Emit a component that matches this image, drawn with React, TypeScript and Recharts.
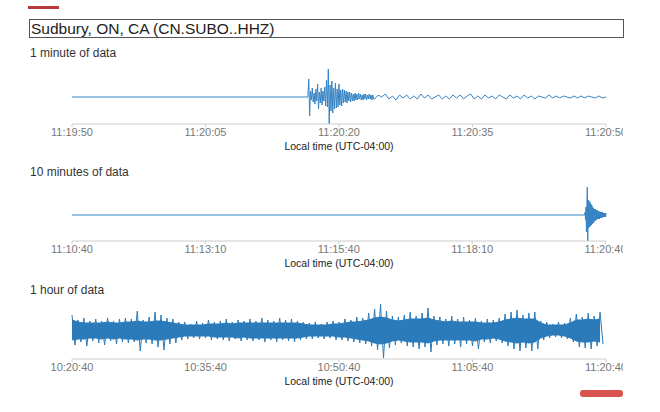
import { LineChart, Line, ComposedChart, Area, XAxis, YAxis } from 'recharts';

// Seismograph panels for station CN.SUBO..HHZ

const STATION = 'Sudbury, ON, CA (CN.SUBO..HHZ)';
const AXIS_TITLE = 'Local time (UTC-04:00)';
const WAVE = '#2b7bba';
const THIN_WAVE = '#3583c4';

// 1 minute window (seconds from 11:19:50)
const minuteTicks = [0, 15, 30, 45, 60];
const minuteLabels = ['11:19:50', '11:20:05', '11:20:20', '11:20:35', '11:20:50'];
const minuteBurstStart = 26.5;
const minuteBurstStep = 0.1;
const minuteBurst = [
  0, 18, -19, 6, -3, 9, -5, 4, -7, 8, -4, 13, -12, 5, -6, 9, -8, 6, -4, 10,
  -9, 17, -10, 28, -27, 12, -14, 16, -16, 9, -12, 14, -11, 8, -10, 13, -8, 7, -9, 8,
  -6, 7, -5, 6, -6, 5, -4, 5, -5, 4, -4, 3, -4, 4, -3, 3, -3, 4, -2, 3,
  -3, 2, -3, 3, -2, 3, -3, 2, -2, 3, -2, 2, -3, 2, -2,
];
const minuteTailStart = 34;
const minuteTailStep = 0.4;
const minuteTail = [
  -2, 2, 0, 3, -2, 1, -3, 2, -1, 2,
  -2, 1, -2, 3, -1, 2, -2, 0, 2, -2,
  1, -2, 2, -1, 2, -2, 1, 3, -2, 1,
  -2, 2, -1, 1, -2, 2, 0, -2, 2, -1,
  1, -2, 2, -1, 1, -2, 1, 0, -1, 2,
  -1, 1, -1, 1, 0, -1, 1, -1, 1, -1,
  1, 0, -1, 1, -1, 0,
];

// 10 minute window (seconds from 11:10:40)
const tenTicks = [0, 150, 300, 450, 600];
const tenLabels = ['11:10:40', '11:13:10', '11:15:40', '11:18:10', '11:20:40'];
const tenBurstStart = 576.5;
const tenBurstStep = 0.5;
const tenBurst = [
  0, 3, -5, 8, -17, 12, 28, -26, 15, -13, 14, -12, 13, -11, 11, -10, 10, -9, 8, -8,
  7, -7, 6, -6, 6, -5, 5, -5, 5, -4, 4, -4, 4, -4, 3, -3, 3, -3, 3, -3,
  3, -2, 2, -2, 2, -2, 2, -2, 2,
];

// 1 hour window (seconds from 10:20:40), one bin every 40 s
const hourTicks = [0, 900, 1800, 2700, 3600];
const hourLabels = ['10:20:40', '10:35:40', '10:50:40', '11:05:40', '11:20:40'];
const hourStep = 40;
// solid core of the noise band
const hourCoreUpper = [
  10, 8, 7, 7, 7, 7, 8, 7, 7, 8, 8, 9, 8, 8, 9, 9, 8, 7, 6, 5,
  5, 5, 5, 6, 6, 6, 7, 6, 7, 7, 7, 7, 7, 7, 7, 7, 7, 7, 7, 6,
  5, 5, 5, 5, 6, 6, 7, 8, 8, 9, 10, 12, 13, 12, 10, 9, 10, 11, 11, 11,
  12, 10, 9, 8, 9, 8, 8, 8, 8, 7, 7, 7, 8, 10, 11, 12, 11, 11, 11, 7,
  5, 5, 5, 5, 7, 10, 10, 11, 10, 11,
];
const hourCoreLower = [
  -10, -9, -9, -8, -8, -9, -8, -9, -8, -9, -9, -10, -9, -9, -10, -10, -9, -8, -7, -6,
  -6, -6, -6, -6, -7, -7, -7, -7, -8, -7, -8, -8, -8, -8, -8, -8, -8, -8, -8, -7,
  -6, -6, -6, -6, -6, -7, -7, -8, -9, -10, -11, -13, -14, -13, -11, -10, -11, -12, -12, -12,
  -13, -11, -10, -10, -10, -10, -10, -10, -11, -9, -9, -8, -9, -11, -12, -13, -12, -13, -12, -8,
  -6, -5, -5, -6, -8, -11, -12, -12, -11, -12,
];
// spike peaks poking out of the band
const hourPeakUpper = [
  15, 10, 12, 9, 11, 9, 12, 9, 11, 12, 11, 19, 10, 13, 18, 15, 12, 11, 8, 8,
  6, 9, 7, 10, 8, 9, 11, 8, 10, 9, 11, 9, 12, 10, 9, 12, 10, 11, 9, 8,
  7, 8, 6, 8, 9, 8, 11, 10, 13, 12, 17, 21, 26, 19, 14, 13, 15, 18, 14, 17,
  22, 14, 13, 11, 14, 11, 13, 10, 12, 9, 11, 10, 12, 16, 18, 20, 15, 17, 18, 9,
  8, 6, 8, 7, 12, 16, 13, 17, 14, 18,
];
const hourPeakLower = [
  -15, -12, -16, -11, -13, -15, -11, -14, -12, -13, -12, -21, -13, -14, -17, -20, -14, -13, -10, -9,
  -8, -9, -8, -10, -9, -10, -11, -9, -11, -10, -11, -10, -12, -10, -12, -10, -11, -12, -10, -9,
  -9, -8, -9, -8, -10, -10, -11, -12, -13, -14, -16, -20, -28, -18, -15, -13, -16, -17, -19, -17,
  -22, -15, -14, -16, -14, -17, -14, -16, -19, -12, -13, -11, -13, -16, -19, -21, -18, -21, -19, -10,
  -8, -7, -8, -9, -12, -17, -18, -19, -16, -14,
];

const minuteData = [
  { t: 0, v: 0 },
  ...minuteBurst.map((v, i) => ({ t: minuteBurstStart + i * minuteBurstStep, v })),
  ...minuteTail.map((v, i) => ({ t: minuteTailStart + i * minuteTailStep, v })),
];

const tenData = [
  { t: 0, v: 0 },
  ...tenBurst.map((v, i) => ({ t: tenBurstStart + i * tenBurstStep, v })),
];

const hourCore = hourCoreUpper.map((u, i) => ({ t: i * hourStep, range: [hourCoreLower[i], u] }));
const hourSpikes = hourPeakUpper.flatMap((u, i) => [
  { t: i * hourStep, v: u },
  { t: i * hourStep + hourStep / 2, v: hourPeakLower[i] },
]);

const CHART_W = 623;
const MARGIN = { top: 2, right: 17, bottom: 4, left: 72 };

function axisProps(ticks: number[], labels: string[]) {
  return {
    type: 'number' as const,
    dataKey: 't',
    domain: [ticks[0], ticks[ticks.length - 1]],
    ticks,
    interval: 0 as const,
    tickFormatter: (v: number) => labels[ticks.indexOf(v)] ?? '',
    height: 26,
    tickSize: 3,
    tickMargin: 1,
    axisLine: { stroke: '#cccccc' },
    tickLine: { stroke: '#cccccc' },
    tick: { fill: '#777777', fontSize: 11 },
    label: { value: AXIS_TITLE, position: 'insideBottom' as const, offset: 0, fill: '#222222', fontSize: 10.5 },
  };
}

function Heading({ top, text }: { top: number; text: string }) {
  return (
    <div style={{ position: 'absolute', left: 30, top, fontSize: 12, lineHeight: '14px', color: '#333' }}>{text}</div>
  );
}

export default function App() {
  return (
    <div
      style={{
        position: 'absolute',
        left: 0,
        top: 0,
        width: 660,
        height: 412,
        background: '#fff',
        overflow: 'hidden',
        fontFamily: "'Liberation Sans', Arial, sans-serif",
      }}
    >
      <div style={{ position: 'absolute', left: 28, top: 6, width: 31, height: 3, background: '#b83a3a' }} />
      <div
        style={{
          position: 'absolute',
          left: 29,
          top: 19,
          width: 592,
          height: 17,
          border: '1px solid #555',
          fontSize: 15.5,
          lineHeight: '17px',
          color: '#222',
          paddingLeft: 1,
          boxSizing: 'content-box',
        }}
      >
        {STATION}
      </div>

      <Heading top={46} text="1 minute of data" />
      <div style={{ position: 'absolute', left: 0, top: 60, width: CHART_W, height: 94, overflow: 'hidden' }}>
        <LineChart width={CHART_W} height={94} data={minuteData} margin={MARGIN}>
          <XAxis {...axisProps(minuteTicks, minuteLabels)} />
          <YAxis hide domain={[-27, 35]} allowDataOverflow />
          <Line dataKey="v" type="linear" stroke={THIN_WAVE} strokeWidth={1} dot={false} isAnimationActive={false} />
        </LineChart>
      </div>

      <Heading top={165} text="10 minutes of data" />
      <div style={{ position: 'absolute', left: 0, top: 183, width: CHART_W, height: 88, overflow: 'hidden' }}>
        <LineChart width={CHART_W} height={88} data={tenData} margin={MARGIN}>
          <XAxis {...axisProps(tenTicks, tenLabels)} />
          <YAxis hide domain={[-26, 30]} allowDataOverflow />
          <Line dataKey="v" type="linear" stroke={THIN_WAVE} strokeWidth={1} dot={false} isAnimationActive={false} />
        </LineChart>
      </div>

      <Heading top={283} text="1 hour of data" />
      <div style={{ position: 'absolute', left: 0, top: 298, width: CHART_W, height: 91, overflow: 'hidden' }}>
        <ComposedChart width={CHART_W} height={91} margin={MARGIN}>
          <XAxis {...axisProps(hourTicks, hourLabels)} allowDuplicatedCategory={false} />
          <YAxis hide domain={[-29, 30]} allowDataOverflow />
          <Area
            data={hourCore}
            dataKey="range"
            type="linear"
            stroke={WAVE}
            strokeWidth={1}
            fill={WAVE}
            fillOpacity={1}
            isAnimationActive={false}
          />
          <Line
            data={hourSpikes}
            dataKey="v"
            type="linear"
            stroke={WAVE}
            strokeWidth={1}
            dot={false}
            isAnimationActive={false}
          />
        </ComposedChart>
      </div>

      <div style={{ position: 'absolute', left: 580, top: 390, width: 43, height: 7, borderRadius: 3, background: '#d9534f' }} />
    </div>
  );
}
